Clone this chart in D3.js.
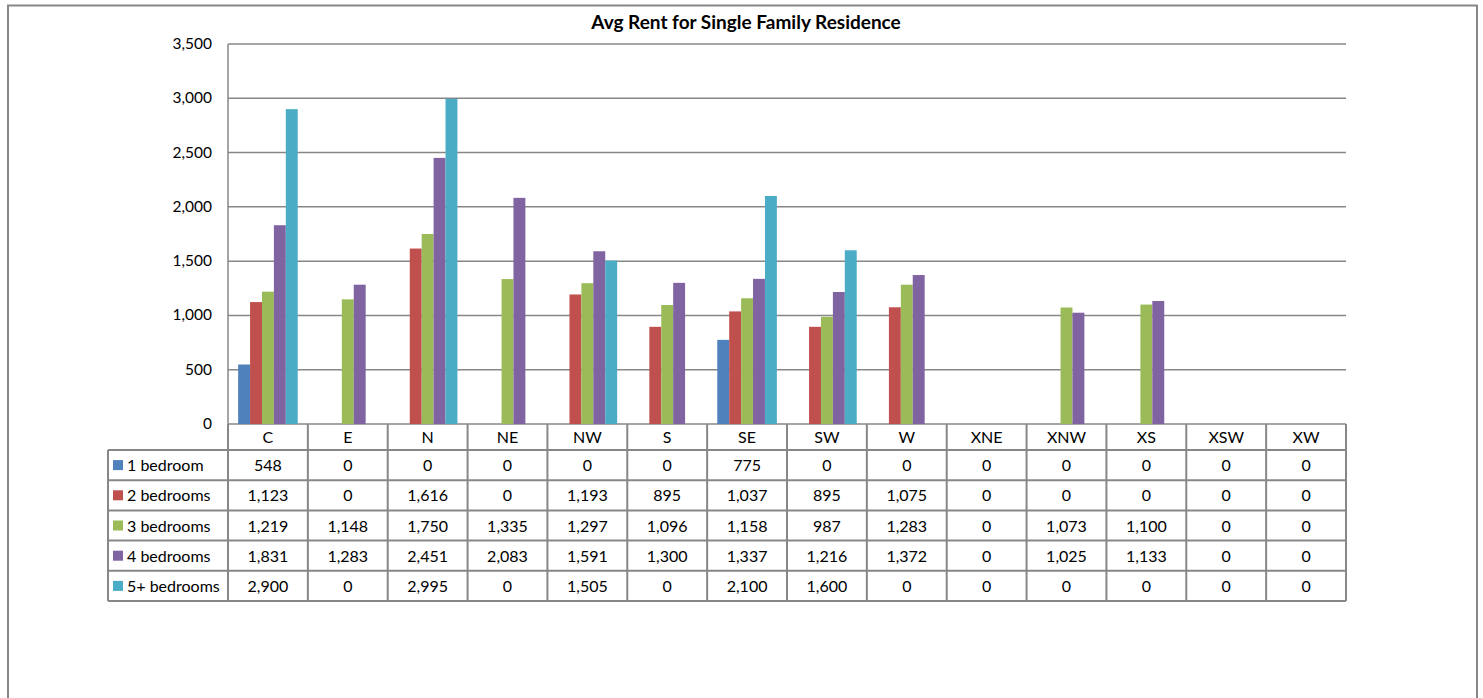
<!DOCTYPE html>
<html>
<head>
<meta charset="utf-8">
<script src="https://cdn.jsdelivr.net/npm/d3@7"></script>
<style>
  body { margin: 0; background: #fff; }
  text { font-family: Lato, "Open Sans", sans-serif; fill: #000; }
</style>
</head>
<body>
<div id="chart"></div>
<script>
(function() {
  var width = 1483, height = 698;

  var regions = ["C", "E", "N", "NE", "NW", "S", "SE", "SW", "W", "XNE", "XNW", "XS", "XSW", "XW"];
  var seriesNames = ["1 bedroom", "2 bedrooms", "3 bedrooms", "4 bedrooms", "5+ bedrooms"];
  var colors = ["#4F81BD", "#C0504D", "#9BBB59", "#8064A2", "#4BACC6"];

  var oneBed   = [548, 0, 0, 0, 0, 0, 775, 0, 0, 0, 0, 0, 0, 0];
  var twoBed   = [1123, 0, 1616, 0, 1193, 895, 1037, 895, 1075, 0, 0, 0, 0, 0];
  var threeBed = [1219, 1148, 1750, 1335, 1297, 1096, 1158, 987, 1283, 0, 1073, 1100, 0, 0];
  var fourBed  = [1831, 1283, 2451, 2083, 1591, 1300, 1337, 1216, 1372, 0, 1025, 1133, 0, 0];
  var fiveBed  = [2900, 0, 2995, 0, 1505, 0, 2100, 1600, 0, 0, 0, 0, 0, 0];

  var yTicks = [0, 500, 1000, 1500, 2000, 2500, 3000, 3500];

  var series = [oneBed, twoBed, threeBed, fourBed, fiveBed];

  var svg = d3.select("#chart")
    .append("svg")
    .attr("width", width)
    .attr("height", height);

  var left = 228, right = 1346, top = 44, bottom = 424;
  var gray = "#878787";

  // outer chart border
  svg.append("rect")
    .attr("x", 8)
    .attr("y", 5.5)
    .attr("width", 1469)
    .attr("height", 720)
    .attr("fill", "none")
    .attr("stroke", gray)
    .attr("stroke-width", 2);

  svg.append("text")
    .attr("x", 746)
    .attr("y", 29)
    .style("font-size", "19px")
    .style("font-weight", "bold")
    .style("text-anchor", "middle")
    .text("Avg Rent for Single Family Residence");

  var xScale = d3.scaleBand().domain(regions).range([left, right]);
  var innerScale = d3.scaleBand().domain(seriesNames).range([0, xScale.bandwidth()]).paddingOuter(0.85);
  var yScale = d3.scaleLinear().domain([0, 3500]).range([bottom, top]);

  // gridlines
  svg.selectAll(".grid")
    .data(yTicks)
    .enter().append("line")
    .attr("class", "grid")
    .attr("x1", left)
    .attr("x2", right)
    .attr("y1", function(d) { return yScale(d) })
    .attr("y2", function(d) { return yScale(d) })
    .attr("stroke", gray)
    .attr("stroke-width", 1.5);

  svg.selectAll(".ylabel")
    .data(yTicks)
    .enter().append("text")
    .attr("class", "ylabel")
    .attr("x", 212)
    .attr("y", function(d) { return yScale(d) + 5 })
    .style("font-size", "15.5px")
    .style("text-anchor", "end")
    .text(function(d) { return d3.format(",")(d) });

  svg.append("line")
    .attr("x1", left).attr("x2", left)
    .attr("y1", top).attr("y2", bottom)
    .attr("stroke", gray)
    .attr("stroke-width", 1.5);

  // bars
  series.forEach(function(vals, si) {
    svg.selectAll(".bar" + si)
      .data(vals.map(function(v, i) { return { region: regions[i], value: v } }))
      .enter().append("rect")
      .attr("class", "bar" + si)
      .attr("x", function(d) { return xScale(d.region) + innerScale(seriesNames[si]) })
      .attr("width", innerScale.bandwidth())
      .attr("y", function(d) { return yScale(d.value) })
      .attr("height", function(d) { return bottom - yScale(d.value) })
      .attr("fill", colors[si]);
  });

  // data table
  var headerH = 26, rowH = 30.2, legendLeft = 108;
  var rowY = d3.scaleBand().domain(seriesNames).range([bottom + headerH, bottom + headerH + rowH * 5]);
  var tableBottom = bottom + headerH + rowH * 5;

  var lineAttrs = function(sel) {
    return sel.attr("stroke", gray).attr("stroke-width", 2);
  };

  // vertical lines
  var colEdges = regions.map(function(r) { return xScale(r) }).concat([right]);
  svg.selectAll(".vline")
    .data(colEdges)
    .enter().append("line")
    .attr("class", "vline")
    .attr("x1", function(d) { return d })
    .attr("x2", function(d) { return d })
    .attr("y1", bottom)
    .attr("y2", tableBottom)
    .call(lineAttrs);

  svg.append("line")
    .attr("x1", legendLeft).attr("x2", legendLeft)
    .attr("y1", bottom + headerH).attr("y2", tableBottom)
    .call(lineAttrs);

  // horizontal lines
  var rowEdges = seriesNames.map(function(s) { return rowY(s) }).concat([tableBottom]);
  svg.selectAll(".hline")
    .data(rowEdges)
    .enter().append("line")
    .attr("class", "hline")
    .attr("x1", legendLeft)
    .attr("x2", right)
    .attr("y1", function(d) { return d })
    .attr("y2", function(d) { return d })
    .call(lineAttrs);

  svg.selectAll(".colhead")
    .data(regions)
    .enter().append("text")
    .attr("class", "colhead")
    .attr("x", function(d) { return xScale(d) + xScale.bandwidth() / 2 })
    .attr("y", bottom + 19)
    .style("font-size", "16px")
    .style("text-anchor", "middle")
    .text(function(d) { return d });

  svg.selectAll(".legkey")
    .data(seriesNames)
    .enter().append("rect")
    .attr("class", "legkey")
    .attr("x", 113)
    .attr("y", function(d) { return rowY(d) + rowH / 2 - 5 })
    .attr("width", 10)
    .attr("height", 10)
    .attr("fill", function(d, i) { return colors[i] });

  svg.selectAll(".legtext")
    .data(seriesNames)
    .enter().append("text")
    .attr("class", "legtext")
    .attr("x", 127)
    .attr("y", function(d) { return rowY(d) + rowH / 2 + 6 })
    .style("font-size", "16px")
    .text(function(d) { return d });

  series.forEach(function(vals, si) {
    svg.selectAll(".cell" + si)
      .data(vals)
      .enter().append("text")
      .attr("class", "cell" + si)
      .attr("x", function(d, i) { return xScale(regions[i]) + xScale.bandwidth() / 2 })
      .attr("y", rowY(seriesNames[si]) + rowH / 2 + 6)
      .style("font-size", "16px")
      .style("text-anchor", "middle")
      .text(function(d) { return d3.format(",")(d) });
  });
})();
</script>
</body>
</html>
